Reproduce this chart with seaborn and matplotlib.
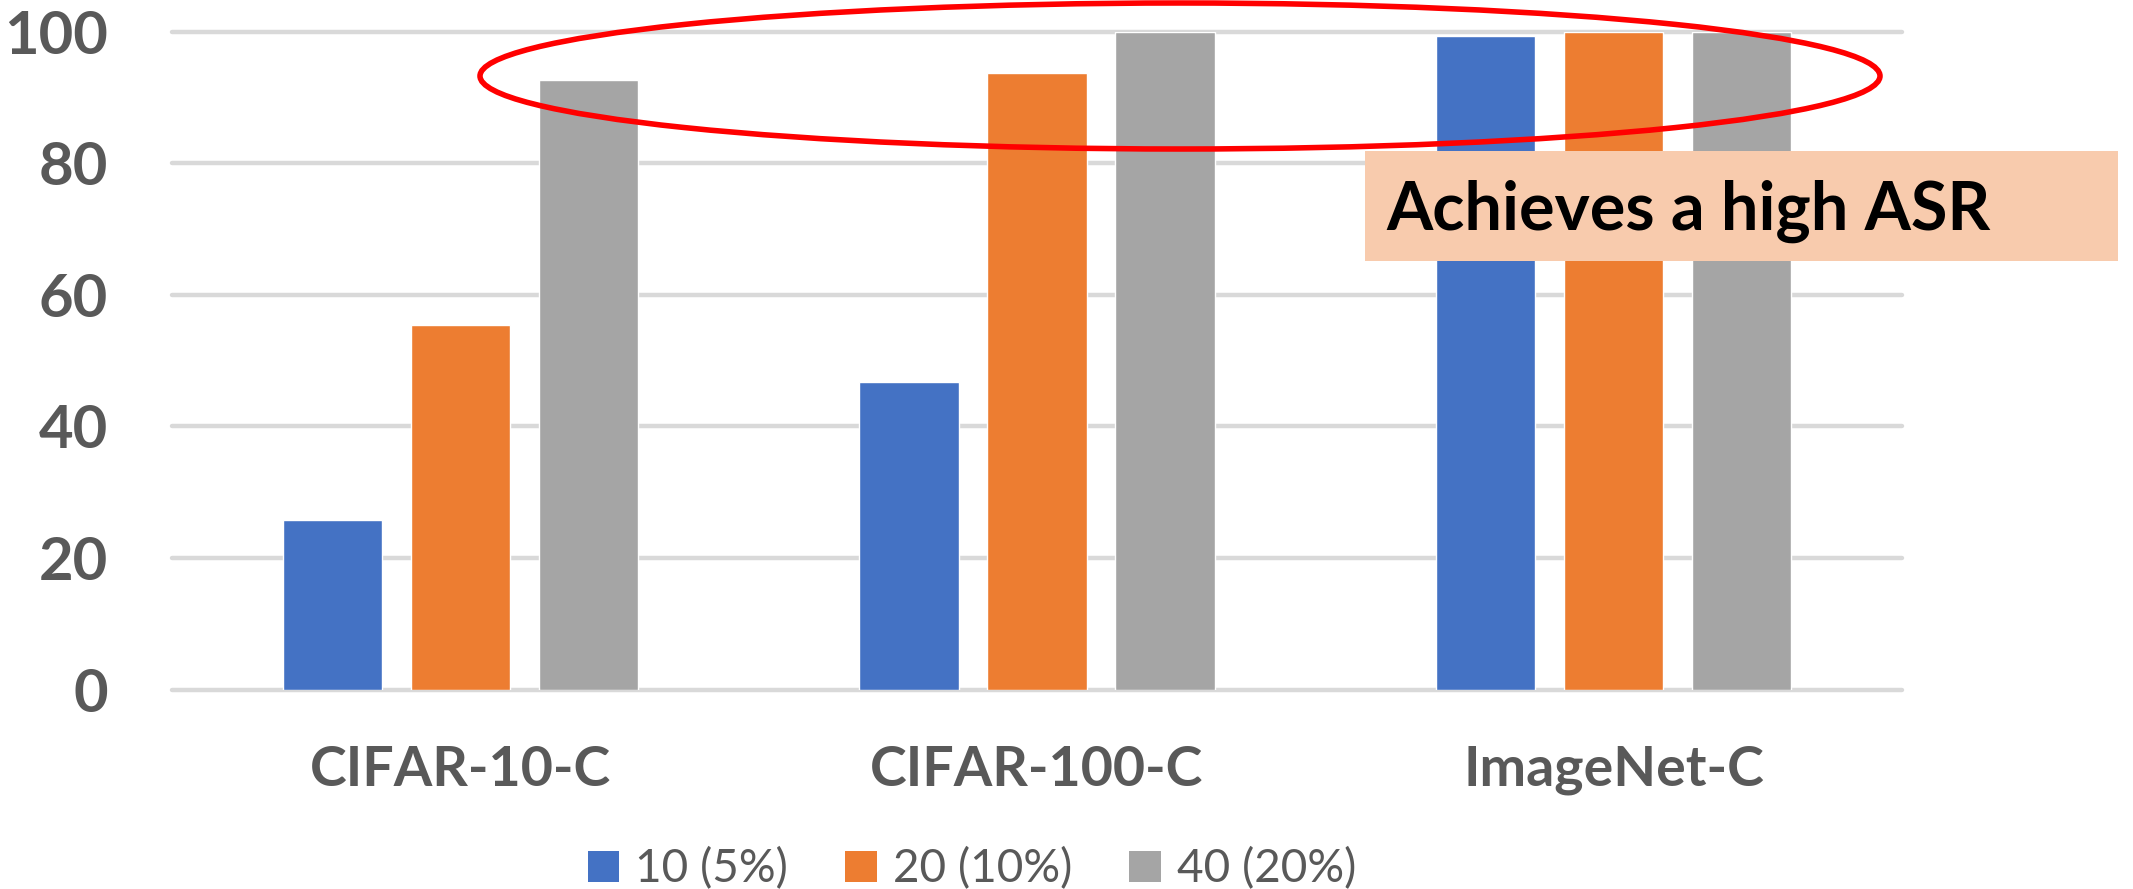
import matplotlib
matplotlib.use("Agg")
import matplotlib.pyplot as plt
from matplotlib.patches import Ellipse, Rectangle, Patch
import seaborn as sns
import pandas as pd

# ASR (%) per dataset for each poisoning budget
datasets = ["CIFAR-10-C", "CIFAR-100-C", "ImageNet-C"]
settings = ["10 (5%)", "20 (10%)", "40 (20%)"]
asr_10 = [25.8, 46.7, 99.4]
asr_20 = [55.4, 93.7, 100.0]
asr_40 = [92.7, 100.0, 100.0]
yticks = [0, 20, 40, 60, 80, 100]
callout = "Achieves a high ASR"

colors = ["#4472C4", "#ED7D31", "#A5A5A5"]
text_grey = "#595959"
grid_grey = "#D9D9D9"

df = pd.DataFrame({
    "dataset": datasets * 3,
    "setting": [s for s in settings for _ in datasets],
    "asr": asr_10 + asr_20 + asr_40,
})

sns.set_style("white")
plt.rcParams["font.family"] = ["Lato", "DejaVu Sans"]

W, H = 2133, 889
fig = plt.figure(figsize=(W / 100, H / 100), dpi=100)
ax = fig.add_axes([172 / W, 1 - 689.5 / H, (1902 - 172) / W, (689.5 - 32) / H])

sns.barplot(data=df, x="dataset", y="asr", hue="setting", order=datasets,
            hue_order=settings, palette=colors, saturation=1,
            width=0.666, gap=0.222, legend=False, ax=ax, zorder=2)

ax.set_xlim(-0.5, 2.5)
ax.set_ylim(0, 100)
ax.set_yticks(yticks)
ax.set_xlabel("")
ax.set_ylabel("")
for s in ax.spines.values():
    s.set_visible(False)
ax.yaxis.grid(True, color=grid_grey, linewidth=3.2)
ax.xaxis.grid(False)
ax.set_axisbelow(True)
for gl in ax.get_ygridlines():
    gl.set_clip_on(False)

ax.tick_params(axis="y", length=0, pad=46, labelsize=43, labelcolor=text_grey)
ax.tick_params(axis="x", length=0, pad=40, labelsize=40, labelcolor=text_grey)
for lab in ax.get_yticklabels() + ax.get_xticklabels():
    lab.set_fontweight("bold")

# legend along the bottom
handles = [Patch(facecolor=c, edgecolor="none") for c in colors]
leg = fig.legend(handles, settings, loc="center", bbox_to_anchor=(972 / W, 1 - 869 / H),
                 ncol=3, frameon=False, fontsize=33, handlelength=0.68,
                 handleheight=0.68, handletextpad=0.35, columnspacing=1.25,
                 labelcolor=text_grey)

# red ellipse around the top of the bars
ell = Ellipse(((480 + 1880) / 2 / W, 1 - 76 / H), 1400 / W, 146 / H,
              transform=fig.transFigure, fill=False, edgecolor="#FF0000",
              linewidth=4.0, zorder=5)
fig.add_artist(ell)

# callout box
box = Rectangle((1365 / W, 1 - 261 / H), (2118 - 1365) / W, (261 - 151) / H,
                transform=fig.transFigure, facecolor="#F8CBAD", edgecolor="none",
                zorder=6)
fig.add_artist(box)
fig.text(1386 / W, 1 - 211 / H, callout, fontsize=48, fontweight="bold",
         color="black", ha="left", va="center", zorder=7)

fig.savefig("out.png", dpi=100)
